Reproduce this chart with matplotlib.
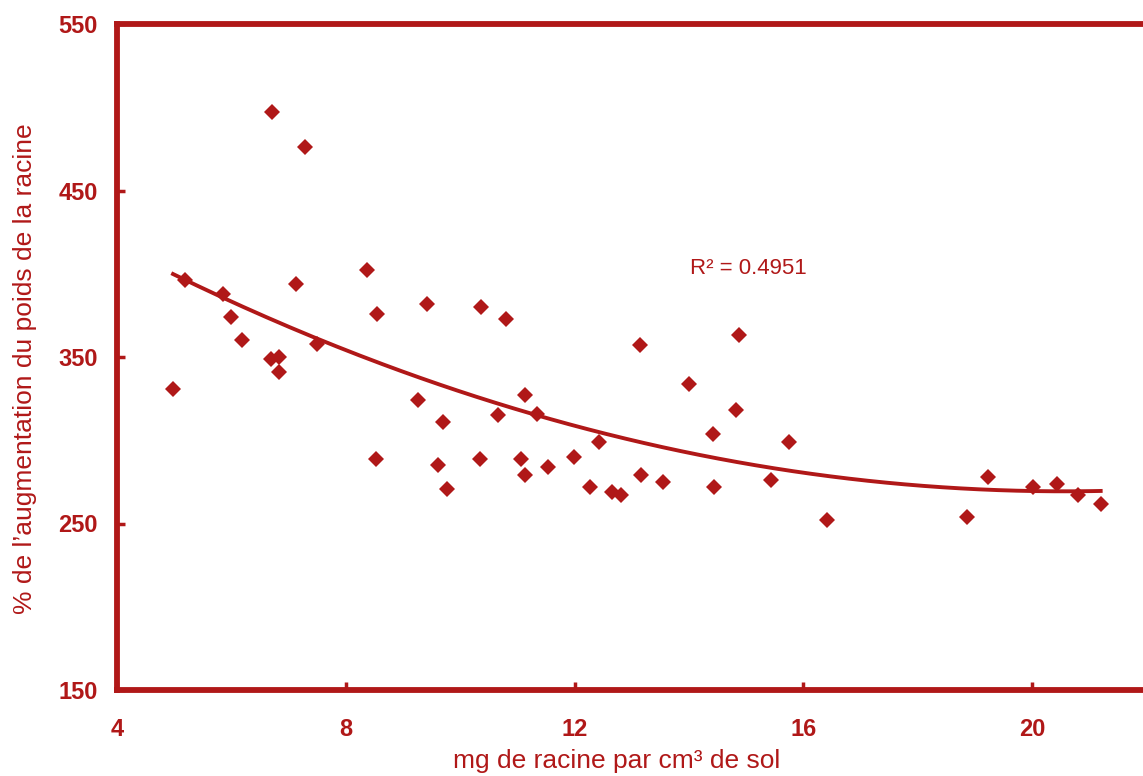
import numpy as np
import matplotlib
matplotlib.use("Agg")
import matplotlib.pyplot as plt

# %% — data (mg root per cm3 soil vs % root weight increase)
root_density = [4.98, 5.19, 5.85, 5.99, 6.19, 6.71, 6.69, 6.83, 6.83, 7.13,
                7.29, 7.50, 8.37, 8.53, 8.55, 9.26, 9.42, 9.61, 9.70, 9.77,
                10.35, 10.36, 10.66, 10.80, 11.06, 11.13, 11.13, 11.34, 11.53, 11.99,
                12.27, 12.43, 12.65, 12.81, 13.14, 13.16, 13.55, 14.00, 14.42, 14.44,
                14.82, 14.87, 15.43, 15.75, 16.41, 18.86, 19.23, 20.01, 20.43, 20.80,
                21.20]
weight_gain = [331, 396, 388, 374, 360, 497, 349, 350, 341, 394,
               476, 358, 402, 289, 376, 324, 382, 285, 311, 271,
               289, 380, 315, 373, 289, 327, 279, 316, 284, 290,
               272, 299, 269, 267, 357, 279, 275, 334, 304, 272,
               318, 363, 276, 299, 252, 254, 278, 272, 274, 267,
               262]
r2_text = "R² = 0.4951"
x_ticks = [4, 8, 12, 16, 20]
y_ticks = [150, 250, 350, 450, 550]

RED = "#b01818"

# %% — figure
fig = plt.figure(figsize=(11.43, 7.76), dpi=100)
ax = fig.add_axes([117 / 1143, 1 - 690 / 776, 1 - 117 / 1143, (690 - 24) / 776])
ax.set_xlim(4, 21.94)
ax.set_ylim(150, 550)

ax.plot(root_density, weight_gain, linestyle="none", marker="D",
        markersize=8, color=RED, markeredgewidth=0)

# second-order trend line fitted on the points
coef = np.polyfit(root_density, weight_gain, 2)
xs = np.linspace(min(root_density), max(root_density), 200)
ax.plot(xs, np.polyval(coef, xs), color=RED, linewidth=2.8)

ax.text(14.02, 403, r2_text, color=RED, fontsize=16, ha="left", va="center",
        family="Liberation Sans")

for side in ["left", "bottom", "top"]:
    ax.spines[side].set_color(RED)
    ax.spines[side].set_linewidth(4.2)
ax.spines["right"].set_visible(False)

ax.set_xticks(x_ticks)
ax.set_yticks(y_ticks)
ax.tick_params(axis="both", direction="in", length=6, width=2.5, color=RED,
               labelcolor=RED, labelsize=17)
ax.tick_params(axis="x", pad=20)
ax.tick_params(axis="y", pad=14)
for lab in ax.get_xticklabels() + ax.get_yticklabels():
    lab.set_fontweight("bold")
    lab.set_family("Liberation Sans")

ax.set_xlabel("mg de racine par cm³ de sol", color=RED, fontsize=19,
              family="Liberation Sans")
ax.xaxis.set_label_coords(0.487, -0.089)
ax.set_ylabel("% de l’augmentation du poids de la racine", color=RED,
              fontsize=19, family="Liberation Sans")
ax.yaxis.set_label_coords(-0.078, 0.483)

fig.savefig("out.png", dpi=100)
